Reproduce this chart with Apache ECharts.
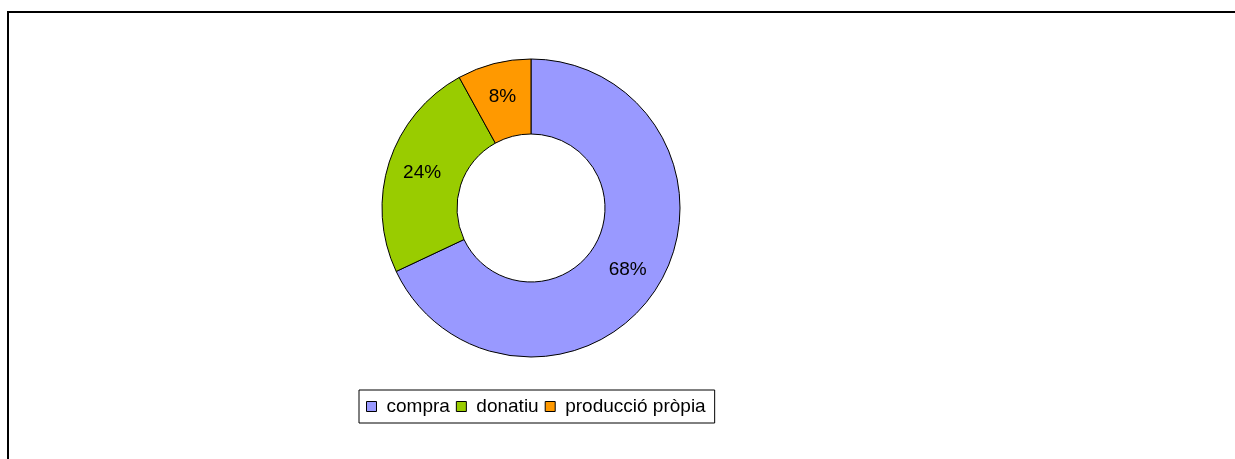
<!DOCTYPE html>
<html>
<head>
<meta charset="utf-8">
<script src="https://cdn.jsdelivr.net/npm/echarts@6/dist/echarts.min.js"></script>
<style>
  html, body { margin: 0; padding: 0; background: #fff; overflow: hidden; }
  #frame { position: absolute; left: 7px; top: 11px; width: 1300px; height: 500px; border: 2px solid #000; box-sizing: border-box; }
  #myChart { position: absolute; left: 0; top: 0; width: 1235px; height: 459px; }
</style>
</head>
<body>
<div id="frame"></div>
<div id="myChart"></div>
<script>
// dades del gràfic
var categories = ["compra", "donatiu", "producció pròpia"];
var values = [68, 24, 8];
var colors = ["#9999FF", "#99CC00", "#FF9900"];

var seriesData = [];
for (var i = 0; i < categories.length; i++) {
  seriesData.push({
    name: categories[i],
    value: values[i],
    itemStyle: { color: colors[i] }
  });
}

var myChart = echarts.init(document.getElementById("myChart"));
myChart.setOption({
  animation: false,
  textStyle: { fontFamily: "Liberation Sans, Arial, sans-serif" },
  legend: {
    left: 359,
    top: 390,
    orient: "horizontal",
    borderColor: "#000",
    borderWidth: 1,
    padding: [7, 9, 7, 7],
    itemWidth: 10,
    itemHeight: 10,
    itemGap: 6,
    icon: "rect",
    itemStyle: { borderColor: "#000", borderWidth: 1 },
    textStyle: {
      color: "#000",
      fontSize: 19,
      fontFamily: "Liberation Sans, Arial, sans-serif",
      padding: [0, 0, 0, 5]
    },
    data: categories
  },
  series: [
    {
      type: "pie",
      center: [531, 208],
      radius: [74, 149],
      startAngle: 90,
      clockwise: true,
      avoidLabelOverlap: false,
      itemStyle: { borderColor: "#000", borderWidth: 1 },
      label: {
        show: true,
        position: "inside",
        formatter: "{d}%",
        color: "#000",
        fontSize: 19,
        fontFamily: "Liberation Sans, Arial, sans-serif"
      },
      labelLine: { show: false },
      emphasis: { disabled: true },
      data: seriesData
    }
  ]
});
</script>
</body>
</html>
